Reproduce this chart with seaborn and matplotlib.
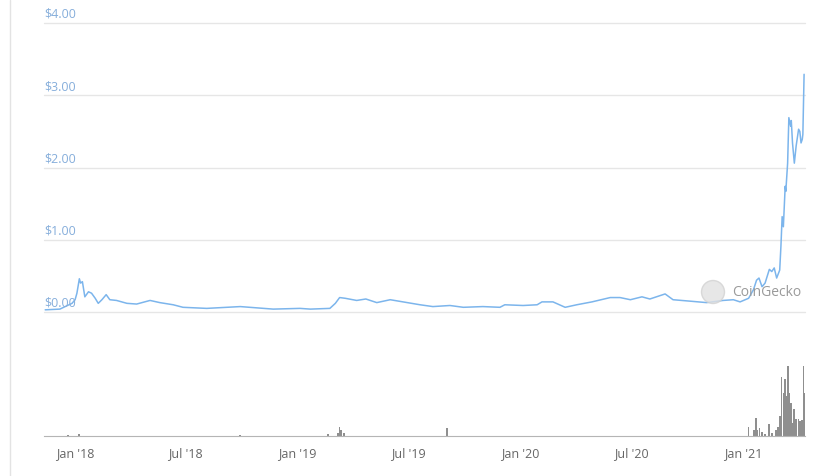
import matplotlib
matplotlib.use("Agg")
import matplotlib.pyplot as plt
import matplotlib.dates as mdates
from matplotlib.lines import Line2D
from matplotlib.patches import Circle
import seaborn as sns
import pandas as pd

# price (USD)
price_dates = ["2017-11-13", "2017-12-07", "2017-12-27", "2018-01-01", "2018-01-04", "2018-01-08",
               "2018-01-10", "2018-01-13", "2018-01-17", "2018-01-23", "2018-01-28", "2018-02-03",
               "2018-02-08", "2018-02-14", "2018-02-21", "2018-02-27", "2018-03-10", "2018-03-27",
               "2018-04-12", "2018-05-04", "2018-05-20", "2018-06-11", "2018-06-27", "2018-08-05",
               "2018-09-29", "2018-11-22", "2019-01-05", "2019-01-22", "2019-02-23", "2019-03-04",
               "2019-03-11", "2019-03-20", "2019-04-08", "2019-04-23", "2019-05-11", "2019-06-02",
               "2019-06-23", "2019-07-21", "2019-08-11", "2019-09-08", "2019-09-30", "2019-11-01",
               "2019-11-29", "2019-12-07", "2020-01-06", "2020-01-29", "2020-02-06", "2020-02-24",
               "2020-03-15", "2020-04-03", "2020-04-28", "2020-05-28", "2020-06-13", "2020-06-30",
               "2020-07-19", "2020-08-01", "2020-08-26", "2020-09-08", "2020-10-06", "2020-11-02",
               "2020-11-29", "2020-12-16", "2020-12-27", "2021-01-10", "2021-01-18", "2021-01-23",
               "2021-01-27", "2021-02-01", "2021-02-06", "2021-02-13", "2021-02-17", "2021-02-21",
               "2021-02-25", "2021-03-02", "2021-03-04", "2021-03-06", "2021-03-08", "2021-03-11",
               "2021-03-12", "2021-03-15", "2021-03-17", "2021-03-20", "2021-03-21", "2021-03-23",
               "2021-03-26", "2021-03-29", "2021-04-02", "2021-04-04", "2021-04-06", "2021-04-08",
               "2021-04-09", "2021-04-11"]
price = [0.03, 0.04, 0.12, 0.17, 0.26, 0.46,
         0.40, 0.42, 0.21, 0.28, 0.26, 0.19,
         0.12, 0.17, 0.24, 0.17, 0.16, 0.12,
         0.11, 0.16, 0.13, 0.10, 0.065, 0.05,
         0.075, 0.04, 0.05, 0.04, 0.05, 0.12,
         0.20, 0.19, 0.16, 0.18, 0.13, 0.17,
         0.14, 0.10, 0.075, 0.09, 0.065, 0.075,
         0.065, 0.10, 0.09, 0.10, 0.14, 0.14,
         0.065, 0.10, 0.14, 0.20, 0.20, 0.17,
         0.21, 0.18, 0.25, 0.17, 0.15, 0.13,
         0.16, 0.17, 0.14, 0.19, 0.31, 0.44,
         0.47, 0.35, 0.40, 0.59, 0.56, 0.61,
         0.47, 0.58, 0.91, 1.32, 1.18, 1.74,
         1.67, 2.06, 2.69, 2.57, 2.65, 2.34,
         2.06, 2.30, 2.53, 2.50, 2.34, 2.39,
         2.46, 3.29]

# trading volume (relative units)
vol_dates = ["2017-12-20", "2018-01-08", "2018-09-28", "2019-02-20", "2019-03-08", "2019-03-11",
             "2019-03-13", "2019-03-18", "2019-09-03", "2021-01-10", "2021-01-19", "2021-01-22",
             "2021-01-24", "2021-01-28", "2021-02-01", "2021-02-06", "2021-02-13", "2021-02-17",
             "2021-02-24", "2021-02-27", "2021-03-03", "2021-03-05", "2021-03-08", "2021-03-11",
             "2021-03-14", "2021-03-16", "2021-03-18", "2021-03-21", "2021-03-24", "2021-03-26",
             "2021-03-29", "2021-04-02", "2021-04-04", "2021-04-07", "2021-04-10", "2021-04-11"]
volume = [1.0, 1.5, 1.0, 2.0, 3.0, 9.0,
          6.0, 3.0, 8.0, 9.3, 6.0, 17.7,
          6.0, 7.7, 4.3, 2.0, 11.7, 2.7,
          6.0, 9.3, 19.3, 57.7, 42.7, 56.0,
          39.3, 68.7, 42.7, 32.7, 12.7, 26.7,
          16.7, 16.7, 14.3, 16.0, 68.7, 42.7]

price_ticks = [0, 1, 2, 3, 4]
x_start, x_end = "2017-11-11", "2021-04-12 12:00"

price_df = pd.DataFrame({"date": pd.to_datetime(price_dates), "price": price})
vol_dates_dt = pd.to_datetime(vol_dates)

sns.set_style("white")
plt.rcParams["font.family"] = ["Open Sans", "DejaVu Sans"]

W, H = 837, 476
fig = plt.figure(figsize=(W / 100, H / 100), dpi=100)


def box(l, t, r, b):
    return [l / W, 1 - b / H, (r - l) / W, (b - t) / H]


ax = fig.add_axes(box(44, 23, 805, 312))
axv = fig.add_axes(box(44, 366, 805, 436))

# price line
for v in price_ticks:
    ax.axhline(v, color="#e6e6e6", lw=1, zorder=0, clip_on=False)
    ax.text(0.0, v + 0.03, f"${v:.2f}", transform=ax.get_yaxis_transform(),
            ha="left", va="bottom", color="#86aedb", fontsize=9)
sns.lineplot(data=price_df, x="date", y="price", ax=ax, color="#7cb5ec", lw=1.1)
ax.set_ylim(0, 4)
ax.set_xlim(pd.Timestamp(x_start), pd.Timestamp(x_end))
ax.set_xlabel("")
ax.set_ylabel("")
ax.set_xticks([])
ax.set_yticks([])
sns.despine(ax=ax, left=True, bottom=True)

# volume bars
axv.bar(vol_dates_dt, volume, width=2.8, color="#8f8f8f", lw=0)
axv.set_ylim(0, 69)
axv.set_xlim(pd.Timestamp(x_start), pd.Timestamp(x_end))
axv.set_yticks([])
axv.xaxis.set_major_locator(mdates.MonthLocator(bymonth=[1, 7]))
axv.xaxis.set_major_formatter(mdates.DateFormatter("%b '%y"))
axv.tick_params(axis="x", direction="out", length=6, width=0.8, color="#ccd6eb",
                labelcolor="#666666", labelsize=9, pad=2)
sns.despine(ax=axv, left=True)
axv.spines["bottom"].set_color("#b5b5b5")
axv.spines["bottom"].set_linewidth(0.8)

# watermark and left border
fig.add_artist(Circle((7.13, (H - 292) / 100), 0.115, transform=fig.dpi_scale_trans,
                      facecolor="#e2e2e2", edgecolor="#d2d2d2", alpha=0.8, lw=1))
fig.text(732 / W, 1 - 293 / H, "CoinGecko", color="#9a9a9a", fontsize=10, va="center", ha="left")
fig.add_artist(Line2D([10.5 / W, 10.5 / W], [0, 1], color="#e3e3e3", lw=1))

fig.savefig("out.png", dpi=100)
